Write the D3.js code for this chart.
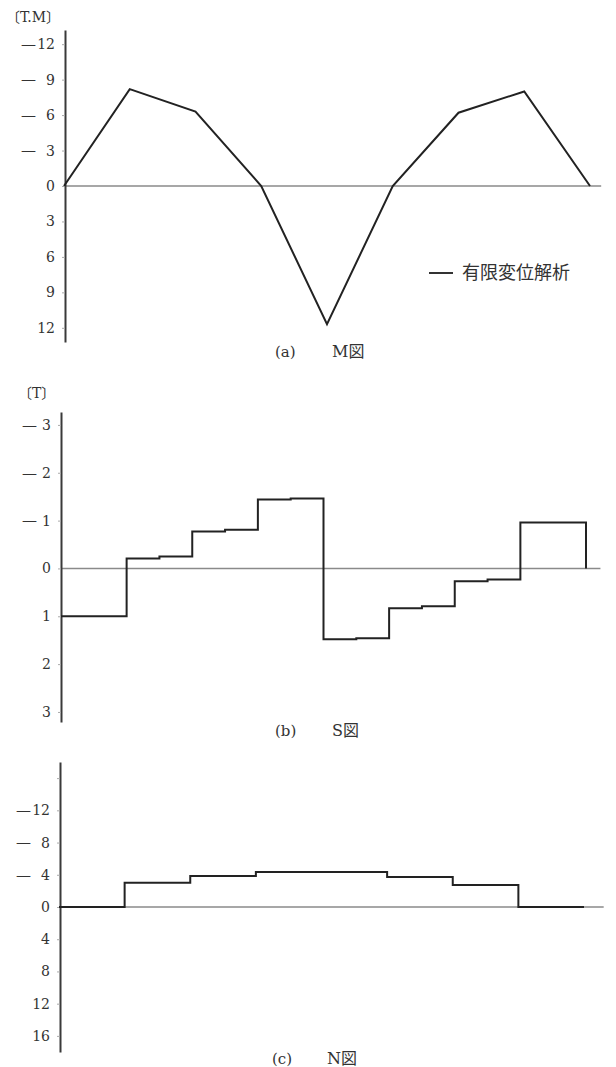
<!DOCTYPE html>
<html>
<head>
<meta charset="utf-8">
<script src="https://cdn.jsdelivr.net/npm/d3@7/dist/d3.min.js"></script>
<style>
  html, body { margin: 0; padding: 0; background: #fff; }
  svg { display: block; }
  text { font-family: "DejaVu Serif", "Noto Sans CJK JP", serif; fill: #333; }
</style>
</head>
<body>
<svg id="chart" width="616" height="1067"></svg>
<script>
// ---- data ----
// member nodes along the frame (element boundaries)
const nodes = [0, 1, 2, 3, 4, 5, 6, 7, 8];
// bending moment at each node [T·m] (negative plotted upward)
const momentValues = [0, -8.2, -6.3, 0, 11.7, 0, -6.2, -8.0, 0];

// half-element stations for shear
const shearStations = [0, 0.5, 1, 1.5, 2, 2.5, 3, 3.5, 4, 4.5, 5, 5.5, 6, 6.5, 7, 7.5];
// shear force on each half element [T]
const shearValues = [1.0, 1.0, -0.21, -0.25, -0.77, -0.81, -1.44, -1.46,
                     1.48, 1.46, 0.83, 0.79, 0.27, 0.23, -0.96, -0.96];

// element starts for axial force
const axialStations = [0, 1, 2, 3, 4, 5, 6, 7];
// axial force in each element [T]
const axialValues = [0, -3.0, -3.85, -4.34, -4.34, -3.72, -2.73, 0];

// tick labels
const momentTicks = [-12, -9, -6, -3, 0, 3, 6, 9, 12];
const shearTicks = [-3, -2, -1, 0, 1, 2, 3];
const axialTicks = [-16, -12, -8, -4, 0, 4, 8, 12, 16];
const axialLabelled = [-12, -8, -4, 0, 4, 8, 12, 16];

const legendLabel = "有限変位解析";

const svg = d3.select("#chart");
svg.append("rect").attr("width", 616).attr("height", 1067).attr("fill", "#fff");

// shared vertical axis with "—" marks for negative values
function drawAxis(g, y, ticks, labelled, dashX, axisX) {
  const axis = d3.axisLeft(y)
    .tickValues(ticks)
    .tickSizeInner(3)
    .tickSizeOuter(0)
    .tickPadding(7)
    .tickFormat(d => labelled.includes(d) ? String(Math.abs(d)) : "");
  const ag = g.append("g").attr("transform", `translate(${axisX},0)`).call(axis);
  ag.select(".domain").attr("stroke", "#3a3a3a").attr("stroke-width", 2);
  ag.selectAll(".tick line").attr("stroke", "#aaa").attr("stroke-width", 1);
  ag.selectAll(".tick text")
    .attr("font-size", 14)
    .attr("fill", "#333")
    .style("font-family", '"DejaVu Serif", serif');
  g.selectAll("text.neg")
    .data(ticks.filter(d => d < 0 && labelled.includes(d)))
    .join("text")
    .attr("class", "neg")
    .attr("x", dashX)
    .attr("y", d => y(d))
    .attr("dy", "0.32em")
    .attr("font-size", 15)
    .attr("fill", "#444")
    .text("—");
}

function unitLabel(g, x, yb, unit) {
  const t = g.append("text").attr("x", x).attr("y", yb).attr("font-size", 14);
  t.append("tspan").style("font-family", '"Noto Sans CJK JP", sans-serif').text("〔");
  t.append("tspan").style("font-family", '"DejaVu Serif", serif').text(unit);
  t.append("tspan").style("font-family", '"Noto Sans CJK JP", sans-serif').text("〕");
}

function caption(g, letter, title, x1, x2, yb) {
  g.append("text").attr("x", x1).attr("y", yb).attr("font-size", 15).text(letter);
  g.append("text").attr("x", x2).attr("y", yb).attr("font-size", 16).text(title);
}

// ---- (a) M diagram ----
{
  const g = svg.append("g");
  const x = d3.scaleLinear().domain([0, 8]).range([64, 590]);
  const y = d3.scaleLinear().domain([-13.2, 13.2]).range([30, 342]);
  g.append("line")
    .attr("x1", x(0)).attr("x2", x(8.17))
    .attr("y1", y(0)).attr("y2", y(0))
    .attr("stroke", "#8a8a8a").attr("stroke-width", 1.6);
  drawAxis(g, y, momentTicks, momentTicks, 21, 65);
  g.append("path")
    .datum(nodes.map((n, i) => [n, momentValues[i]]))
    .attr("fill", "none").attr("stroke", "#222").attr("stroke-width", 2)
    .attr("stroke-linejoin", "miter")
    .attr("d", d3.line().x(d => x(d[0])).y(d => y(d[1])));
  unitLabel(g, 6, 22, "T.M");
  // legend
  g.append("line").attr("x1", 429).attr("x2", 453).attr("y1", 273).attr("y2", 273)
    .attr("stroke", "#333").attr("stroke-width", 2);
  g.append("text").attr("x", 462).attr("y", 273).attr("dy", "0.36em")
    .attr("font-size", 18).attr("fill", "#444")
    .style("font-family", '"Noto Sans CJK JP", sans-serif')
    .text(legendLabel);
  caption(g, "(a)", "M図", 275, 332, 357);
}

// ---- (b) S diagram ----
{
  const g = svg.append("g");
  const x = d3.scaleLinear().domain([0, 8]).range([61, 586]);
  const y = d3.scaleLinear().domain([-3.27, 3.21]).range([412, 722]);
  g.append("line")
    .attr("x1", x(0)).attr("x2", x(8.22))
    .attr("y1", y(0)).attr("y2", y(0))
    .attr("stroke", "#8a8a8a").attr("stroke-width", 1.6);
  drawAxis(g, y, shearTicks, shearTicks, 22, 61);
  const pts = shearStations.map((s, i) => [s, shearValues[i]]);
  pts.push([8, shearValues[shearValues.length - 1]]);
  pts.push([8, 0]);
  g.append("path")
    .datum(pts)
    .attr("fill", "none").attr("stroke", "#222").attr("stroke-width", 2)
    .attr("d", d3.line().curve(d3.curveStepAfter).x(d => x(d[0])).y(d => y(d[1])));
  unitLabel(g, 18, 398, "T");
  caption(g, "(b)", "S図", 275, 332, 736);
}

// ---- (c) N diagram ----
{
  const g = svg.append("g");
  const x = d3.scaleLinear().domain([0, 8]).range([59, 584]);
  const y = d3.scaleLinear().domain([-18, 18]).range([762, 1052]);
  g.append("line")
    .attr("x1", x(0)).attr("x2", x(8.3))
    .attr("y1", y(0)).attr("y2", y(0))
    .attr("stroke", "#8a8a8a").attr("stroke-width", 1.6);
  drawAxis(g, y, axialTicks, axialLabelled, 16, 60);
  const pts = axialStations.map((s, i) => [s, axialValues[i]]);
  pts.push([8, axialValues[axialValues.length - 1]]);
  g.append("path")
    .datum(pts)
    .attr("fill", "none").attr("stroke", "#222").attr("stroke-width", 2)
    .attr("d", d3.line().curve(d3.curveStepAfter).x(d => x(d[0])).y(d => y(d[1])));
  caption(g, "(c)", "N図", 272, 327, 1064);
}
</script>
</body>
</html>
